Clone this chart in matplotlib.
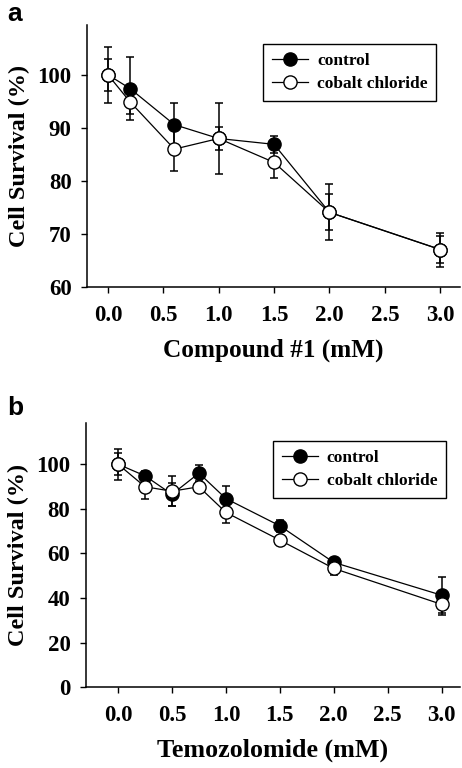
import numpy as np
import matplotlib
matplotlib.use('Agg')
import matplotlib.pyplot as plt
from matplotlib.lines import Line2D

# panel a: Compound #1
conc_a = [0.0, 0.2, 0.6, 1.0, 1.5, 2.0, 3.0]
ctrl_a = [100.0, 97.4, 90.6, 88.0, 86.9, 74.1, 67.1]
ctrl_a_err = [5.3, 6.0, 4.1, 6.6, 1.6, 5.3, 2.6]
cobalt_a = [100.0, 94.9, 86.0, 88.0, 83.5, 74.1, 67.1]
cobalt_a_err = [3.0, 2.2, 4.1, 2.2, 3.0, 3.4, 3.2]

# panel b: Temozolomide
conc_b = [0.0, 0.25, 0.5, 0.75, 1.0, 1.5, 2.0, 3.0]
ctrl_b = [100.0, 94.8, 86.5, 96.0, 84.6, 72.4, 56.0, 41.3]
ctrl_b_err = [7.0, 2.0, 5.0, 3.5, 5.5, 2.6, 2.0, 8.0]
cobalt_b = [100.0, 89.9, 87.9, 89.9, 78.4, 66.0, 53.3, 37.2]
cobalt_b_err = [5.0, 5.7, 6.8, 2.0, 4.7, 2.0, 3.0, 4.7]

xticks = [0.0, 0.5, 1.0, 1.5, 2.0, 2.5, 3.0]
serif = 'Liberation Serif'

plt.rcParams['font.family'] = serif
plt.rcParams['font.weight'] = 'bold'

fig = plt.figure(figsize=(4.62, 7.68), dpi=100)


def panel(ax, x, c, ce, k, ke, xlabel, xlsize, ylim, yticks, xlim, leg_anchor):
    ax.errorbar(x, c, yerr=ce, color='black', lw=0.9, marker='o', ms=9.5,
                mfc='black', mec='black', ecolor='black', elinewidth=1.1,
                capsize=3, capthick=1.1, zorder=3)
    ax.errorbar(x, k, yerr=ke, color='black', lw=0.9, marker='o', ms=9.5,
                mfc='white', mec='black', ecolor='black', elinewidth=1.1,
                capsize=3, capthick=1.1, zorder=4)
    ax.set_xlim(xlim)
    ax.set_ylim(ylim)
    ax.set_xticks(xticks)
    ax.set_xticklabels(['%.1f' % v for v in xticks])
    ax.set_yticks(yticks)
    for s in ['top', 'right']:
        ax.spines[s].set_visible(False)
    for s in ['left', 'bottom']:
        ax.spines[s].set_linewidth(1.1)
    ax.tick_params(direction='out', length=4, width=1.0, labelsize=16.5, pad=7)
    ax.tick_params(axis='x', pad=9)
    for lab in ax.get_xticklabels() + ax.get_yticklabels():
        lab.set_fontweight('bold')
    ax.set_xlabel(xlabel, fontsize=xlsize, fontweight='bold', labelpad=9)
    ax.set_ylabel('Cell Survival (%)', fontsize=17.5, fontweight='bold', labelpad=5)
    handles = [
        Line2D([], [], color='black', lw=0.9, marker='o', ms=9.5,
               mfc='black', mec='black'),
        Line2D([], [], color='black', lw=0.9, marker='o', ms=9.5,
               mfc='white', mec='black'),
    ]
    leg = ax.legend(handles, ['control', 'cobalt chloride'],
                    loc='upper right', bbox_to_anchor=leg_anchor,
                    borderaxespad=0,
                    fancybox=False, edgecolor='black', framealpha=1,
                    prop={'family': serif, 'weight': 'bold', 'size': 12.5},
                    handlelength=2.1, borderpad=0.5, labelspacing=0.4,
                    handletextpad=0.5)
    leg.get_frame().set_linewidth(1.0)
    return ax


ax1 = fig.add_axes([0.188, 0.626, 0.808, 0.341])
panel(ax1, conc_a, ctrl_a, ctrl_a_err, cobalt_a, cobalt_a_err,
      'Compound #1 (mM)', 18.2, (60, 109.3), [60, 70, 80, 90, 100], (-0.19, 3.18),
      (0.936, 0.927))

ax2 = fig.add_axes([0.1855, 0.105, 0.81, 0.344])
panel(ax2, conc_b, ctrl_b, ctrl_b_err, cobalt_b, cobalt_b_err,
      'Temozolomide (mM)', 18.7, (0, 118.4), [0, 20, 40, 60, 80, 100], (-0.30, 3.17),
      (0.963, 0.932))

fig.text(0.015, 0.998, 'a', fontsize=19, fontweight='bold',
         family='Liberation Sans', va='top', ha='left')
fig.text(0.015, 0.485, 'b', fontsize=19, fontweight='bold',
         family='Liberation Sans', va='top', ha='left')

fig.savefig('out.png', dpi=100)
